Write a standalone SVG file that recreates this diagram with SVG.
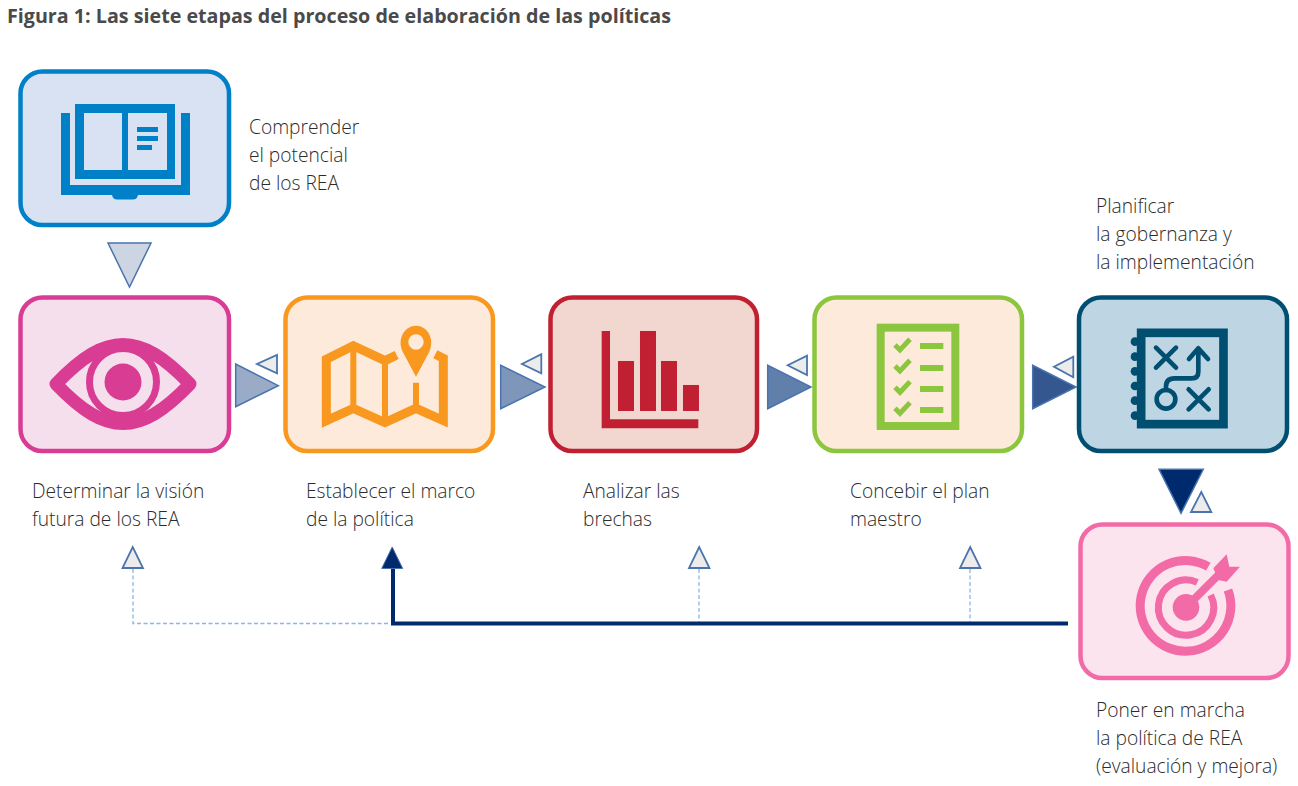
<svg xmlns="http://www.w3.org/2000/svg" width="1298" height="786" viewBox="0 0 1298 786">
<style>
text{font-family:"Open Sans","Noto Sans","Liberation Sans",sans-serif;font-size:19.200px;fill:#2b2b2b;font-weight:300}
.title{font-size:19.700px;font-weight:700;fill:#4a4a4a}
.box{stroke-width:4.500}
.small{fill:#ececec;stroke:#4a74ad;stroke-width:1.800}
.big{stroke:#4a74ad;stroke-width:1.500}
.dash{fill:none;stroke:#8fb3e6;stroke-width:1.300;stroke-dasharray:4 2.500}
</style>
<rect width="1298" height="786" fill="#fff"/>
<text class="title" x="7" y="23">Figura 1: Las siete etapas del proceso de elaboración de las políticas</text>

<g id="connectors">
<polygon class="big" points="108,243 151,243 129.500,287" fill="#cdd5e3"/>
<polygon class="big" points="235.700,364 235.700,406.700 278.300,385.700" fill="#9aabc8"/>
<polygon class="small" points="277,355 277,373.300 257,364"/>
<polygon class="big" points="500.700,365.300 500.700,408.700 545,387" fill="#7f96bb"/>
<polygon class="small" points="541.300,354.300 541.300,373.300 522,364"/>
<polygon class="big" points="767.700,365.300 767.700,408.700 811,387" fill="#617fab"/>
<polygon class="small" points="807,355.700 807,375 787.700,365.300"/>
<polygon class="big" points="1032.700,365.300 1032.700,408.700 1076,387" fill="#34578f"/>
<polygon class="small" points="1073.300,356.700 1073.300,377.300 1054,366.700"/>
<polygon class="big" points="1159,469.300 1203.300,469.300 1181,513.300" fill="#002a6e"/>
<polygon class="small" points="1191,512 1211.300,512 1201.300,492"/>
<path class="dash" d="M133,569V623.500H390M699,569V622M970,569V622"/>
<path d="M393,568V623.500H1068" fill="none" stroke="#002a6e" stroke-width="4"/>
<polygon class="small" points="122.500,568 143,568 132.700,547"/>
<polygon points="381.700,568.500 402.700,568.500 392.200,547" fill="#002a6e" stroke="#4a74ad" stroke-width="1"/>
<polygon class="small" points="689,568 709.500,568 699.200,547"/>
<polygon class="small" points="960,568 980.500,568 970.200,547"/>
</g>

<g id="node-comprender">
<rect class="box" x="20.500" y="71.500" width="208.500" height="153.500" rx="22" fill="#d9e2f3" stroke="#0080c6"/>
<path fill="#0080c6" fill-rule="evenodd" d="M61,113h9v72h111v-72h9v82h-52q-1,4.500-5,4.500h-16q-4,0-5-4.500h-51zM75,104h100v75h-100zM84,113v57h38v-57zM128,113v57h39v-57zM137,127v5h21v-5zM137,136v5h21v-5zM137,145v5h15v-5z"/>
<text x="249" y="134">Comprender</text>
<text x="249" y="162">el potencial</text>
<text x="249" y="190">de los REA</text>
</g>

<g id="node-vision">
<rect class="box" x="20.500" y="297.500" width="208.500" height="153.500" rx="22" fill="#f6dfec" stroke="#d93c93"/>
<path d="M56,384C82,357 102,344.500 123,344.500C144,344.500 164,357 190,384C164,411 144,423.500 123,423.500C102,423.500 82,411 56,384Z" fill="none" stroke="#d93c93" stroke-width="13" stroke-linejoin="round"/>
<circle cx="123" cy="382" r="33.500" fill="none" stroke="#d93c93" stroke-width="7"/>
<circle cx="123" cy="382" r="18.500" fill="#d93c93"/>
<text x="32" y="498">Determinar la visión</text>
<text x="32" y="526">futura de los REA</text>
</g>

<g id="node-marco">
<rect class="box" x="285.500" y="297.500" width="207.500" height="153.500" rx="22" fill="#feeada" stroke="#f9981f"/>
<g transform="translate(280 290) scale(.3333)">
<path d="M350,195L315,212L220,167L139,208V392L220,355L315,398L408,355L490,392V205L466,193" fill="none" stroke="#f9981f" stroke-width="27"/>
<path d="M220,167V355M315,212V398M408,278V355" fill="none" stroke="#f9981f" stroke-width="18"/>
<path fill="#f9981f" fill-rule="evenodd" d="M408,260L368,185C350,145 375,107 408,107C441,107 466,145 448,185ZM408,133a23,23 0 1 0 .01,0Z"/>
</g>
<text x="306" y="498">Establecer el marco</text>
<text x="306" y="526">de la política</text>
</g>

<g id="node-brechas">
<rect class="box" x="550.500" y="297.500" width="206.500" height="153.500" rx="22" fill="#f2d6d0" stroke="#c12033"/>
<g transform="translate(545 290) scale(.3333)" fill="#c12033">
<path d="M170,123h25v265h265v27h-290z"/>
<rect x="219" y="213" width="48" height="150"/>
<rect x="285" y="123" width="48" height="240"/>
<rect x="348" y="213" width="48" height="150"/>
<rect x="414" y="285" width="48" height="78"/>
</g>
<text x="583" y="498">Analizar las</text>
<text x="583" y="526">brechas</text>
</g>

<g id="node-plan">
<rect class="box" x="814.500" y="297.500" width="207.500" height="153.500" rx="22" fill="#feeada" stroke="#8cc63f"/>
<g transform="translate(810 290) scale(.3333)">
<rect x="212" y="113" width="224" height="295" fill="none" stroke="#8cc63f" stroke-width="24"/>
<path d="M255,165L270,180L300,148M255,228L270,243L300,211M255,292L270,307L300,275M255,355L270,370L300,338" fill="none" stroke="#8cc63f" stroke-width="15"/>
<path d="M330,168H400M330,234H400M330,297H400M330,360H400" fill="none" stroke="#8cc63f" stroke-width="18"/>
</g>
<text x="850" y="498">Concebir el plan</text>
<text x="850" y="526">maestro</text>
</g>

<g id="node-gobernanza">
<rect class="box" x="1079" y="297.500" width="208" height="153.500" rx="22" fill="#bed5e4" stroke="#004f71"/>
<g transform="translate(1070 290) scale(.3333)" stroke="#004f71">
<rect x="213.500" y="128.500" width="247" height="274" fill="none" stroke-width="26"/>
<g fill="#004f71" stroke="none">
<circle cx="195" cy="155" r="13"/><circle cx="195" cy="200" r="13"/><circle cx="195" cy="244" r="13"/><circle cx="195" cy="288" r="13"/><circle cx="195" cy="332" r="13"/><circle cx="195" cy="377" r="13"/>
</g>
<path d="M258,173L318,233M318,173L258,233M356,298L416,358M416,298L356,358M288,300V290Q288,265 313,265H365Q385,265 385,245V178M357,207L385,175L414,207" fill="none" stroke-width="14" stroke-linecap="round" stroke-linejoin="round"/>
<circle cx="288" cy="328" r="28" fill="none" stroke-width="14"/>
</g>
<text x="1096" y="213">Planificar</text>
<text x="1096" y="241">la gobernanza y</text>
<text x="1096" y="269">la implementación</text>
</g>

<g id="node-marcha">
<rect class="box" x="1080.500" y="524.500" width="208" height="153.500" rx="22" fill="#fce4ef" stroke="#f26ba6"/>
<g transform="translate(1070 515) scale(.3333)" fill="none" stroke="#f26ba6">
<path d="M415,155A136,136 0 1 0 474,225" stroke-width="27"/>
<path d="M382,202A83,83 0 1 0 422,240" stroke-width="21"/>
<circle cx="348" cy="277" r="40" fill="#f26ba6" stroke="none"/>
<path d="M348,277L445,180" stroke-width="24"/>
<polygon points="430,160 470,118 478,155 510,155 470,200 445,195" fill="#f26ba6" stroke="none"/>
</g>
<text x="1096" y="717">Poner en marcha</text>
<text x="1096" y="745">la política de REA</text>
<text x="1096" y="773">(evaluación y mejora)</text>
</g>
</svg>
